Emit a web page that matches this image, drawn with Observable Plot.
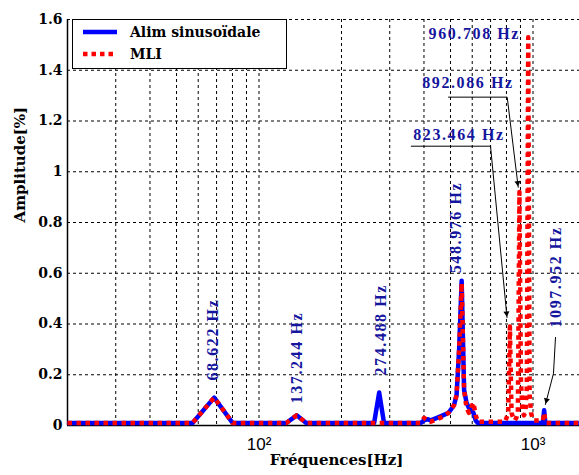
<!DOCTYPE html>
<html><head><meta charset="utf-8">
<script src="https://cdn.jsdelivr.net/npm/d3@7"></script>
<script src="https://cdn.jsdelivr.net/npm/@observablehq/plot@0.6"></script>
<style>
html,body{margin:0;padding:0;background:#fff;overflow:hidden}
#wrap{position:relative;width:579px;height:475px}
#legend{position:absolute;left:72px;top:19px}
</style></head><body><div id="wrap"></div>
<script>
// ---- data ----
const seriesNames = ["Alim sinusoïdale", "MLI"];
const sinFreq = [20,57.2,68.6,80.1,125.8,137.2,148.7,263.1,274.5,285.9,388.9,400.3,411.7,423.2,446.1,468.9,491.8,503.2,514.7,526.1,537.5,549.0,560.4,571.9,583.3,594.7,606.2,617.6,629.0,1086.5,1098.0,1109.4,1470];
const sinAmp  = [0.01,0.01,0.11,0.01,0.01,0.04,0.01,0.01,0.13,0.01,0.01,0.02,0.025,0.02,0.03,0.04,0.05,0.065,0.08,0.12,0.3,0.57,0.14,0.09,0.07,0.06,0.05,0.02,0.01,0.01,0.06,0.01,0.01];
const mliFreq = [20,57.2,68.6,80.1,125.8,137.2,148.7,388.9,400.3,411.7,423.2,446.1,468.9,491.8,503.2,514.7,526.1,537.5,549.0,560.4,571.9,583.3,594.7,606.2,617.6,629.0,789.2,800.6,812.0,823.5,834.9,846.3,857.8,869.2,880.6,892.1,903.5,915.0,926.4,937.8,949.3,960.7,972.1,983.6,995.0,1006.4,1086.5,1098.0,1109.4,1120.8,1470];
const mliAmp  = [0.01,0.01,0.11,0.01,0.01,0.04,0.01,0.01,0.03,0.02,0.015,0.025,0.035,0.05,0.065,0.08,0.12,0.3,0.56,0.14,0.07,0.05,0.07,0.09,0.04,0.015,0.015,0.03,0.05,0.39,0.05,0.03,0.02,0.03,0.05,0.92,0.18,0.06,0.04,0.05,0.15,1.53,0.12,0.05,0.03,0.02,0.02,0.05,0.02,0.01,0.01];

const yTicks = [0,0.2,0.4,0.6,0.8,1,1.2,1.4,1.6];
const yTickLabels = ["0","0.2","0.4","0.6","0.8","1","1.2","1.4","1.6"];
const xTicks = [100,1000];
const xTickLabels = ["10²","10³"];
const gridFreqs = [30,40,50,60,70,80,90,100,200,300,400,500,600,700,800,900,1000];
const xLabel = "Fréquences[Hz]";
const yLabel = "Amplitude[%]";

// vertical peak labels (anchor = bottom of text)
const vLabelText = ["68.622 Hz","137.244 Hz","274.488 Hz","548.976 Hz","1097.952 Hz"];
const vLabelFreq = [67.6,137.8,277.5,521,1208];
const vLabelAmp  = [0.177,0.087,0.197,0.60,0.386];
// horizontal peak labels (anchor = left of text)
const hLabelText = ["960.708 Hz","892.086 Hz","823.464 Hz"];
const hLabelFreq = [415.6,394,365.3];
const hLabelAmp  = [1.545,1.352,1.147];
// leader lines (polylines ending with an arrow tip)
const leaderId   = [892,892,892, 823,823,823, 1098,1098,1098];
const leaderFreq = [491.6,805,883, 359.5,699.7,803.7, 1208,1187.6,1110];
const leaderAmp  = [1.294,1.294,0.939, 1.1007,1.1007,0.4256, 0.347,0.205,0.083];

// ---- build ----
const W = 579, H = 475, mL = 67, mR = 0, mT = 19, mB = 50;
const xDomain = [20, 1478], yDomain = [0, 1.6];
const sin = sinFreq.map((f,i)=>({f, a: sinAmp[i]}));
const mli = mliFreq.map((f,i)=>({f, a: mliAmp[i]}));
const vLab = vLabelText.map((t,i)=>({t, f: vLabelFreq[i], a: vLabelAmp[i]}));
const hLab = hLabelText.map((t,i)=>({t, f: hLabelFreq[i], a: hLabelAmp[i]}));
const leaders = leaderId.map((id,i)=>({id, f: leaderFreq[i], a: leaderAmp[i]}));

const xs = d3.scaleLog(xDomain, [mL, W - mR]);
const ys = d3.scaleLinear(yDomain, [H - mB, mT]);
const annColor = "#15159e";
const serif = "DejaVu Serif";
const annFont = "Liberation Serif";

function arrowHead(id) {
  const pts = leaders.filter(d => d.id === id);
  const p0 = pts[pts.length-2], p1 = pts[pts.length-1];
  const dx = xs(p1.f) - xs(p0.f), dy = ys(p1.a) - ys(p0.a);
  const L = Math.hypot(dx, dy), ux = dx/L, uy = dy/L;
  const k = 4.3;
  return Plot.dot([p1], {x:"f", y:"a", symbol:"triangle2", r:2.9, fill:"black", stroke:"none",
    rotate: Math.atan2(uy, ux)*180/Math.PI + 90, dx: -ux*k, dy: -uy*k});
}

const plot = Plot.plot({
  width: W, height: H, marginLeft: mL, marginRight: mR, marginTop: mT, marginBottom: mB,
  x: {type: "log", domain: xDomain},
  y: {domain: yDomain},
  style: {fontFamily: serif, background: "white"},
  marks: [
    Plot.ruleX(gridFreqs, {stroke: "#000", strokeWidth: 1, strokeDasharray: "3,3"}),
    Plot.ruleY(yTicks.slice(1), {stroke: "#000", strokeWidth: 1, strokeDasharray: "3,3"}),
    Plot.axisY({ticks: yTicks, tickSize: 0, tickPadding: 5, label: null,
      tickFormat: d => yTickLabels[yTicks.indexOf(d)],
      fontSize: 14, fontWeight: "bold", fontFamily: serif, fill: "#000"}),
    Plot.axisX({ticks: xTicks, tickSize: 0, tickPadding: 12, label: null,
      tickFormat: d => xTickLabels[xTicks.indexOf(d)],
      fontSize: 17, fontFamily: "Liberation Sans", fill: "#000"}),
    Plot.ruleX([xDomain[0]], {stroke: "#000", strokeWidth: 1.5}),
    Plot.ruleY([0], {stroke: "#000", strokeWidth: 1.5}),
    Plot.line(sin, {x: "f", y: "a", stroke: "#0000ff", strokeWidth: 4.5, strokeLinejoin: "round", strokeLinecap: "butt"}),
    Plot.line(mli, {x: "f", y: "a", stroke: "#ff0000", strokeWidth: 4.5, strokeDasharray: "4.5,4.5", strokeLinejoin: "round", strokeLinecap: "butt"}),
    Plot.line(leaders, {x: "f", y: "a", z: "id", stroke: "#000", strokeWidth: 1, curve: "linear"}),
    arrowHead(892), arrowHead(823), arrowHead(1098),
    Plot.text(vLab, {x: "f", y: "a", text: "t", rotate: -90, textAnchor: "start", lineAnchor: "middle",
      fill: annColor, fontSize: 16, fontWeight: "bold", fontFamily: annFont}),
    Plot.text(hLab, {x: "f", y: "a", text: "t", textAnchor: "start", lineAnchor: "middle",
      fill: annColor, fontSize: 16, fontWeight: "bold", fontFamily: annFont}),
    Plot.text([xLabel], {frameAnchor: "bottom", dx: 13, dy: 35, lineAnchor: "middle",
      fontSize: 15, fontWeight: "bold", fontFamily: serif, fill: "#000"}),
    Plot.text([yLabel], {frameAnchor: "left", dx: -47, rotate: -90, lineAnchor: "middle",
      fontSize: 15, fontWeight: "bold", fontFamily: serif, fill: "#000"})
  ]
});
d3.select(plot).selectAll(`g[fill="${annColor}"] text`).style("letter-spacing", "1.6px");
const wrap = document.getElementById("wrap");
wrap.appendChild(plot);

// legend box inside plot (top-left)
const lg = d3.select(wrap).append("svg").attr("id", "legend").attr("width", 216).attr("height", 51);
lg.append("rect").attr("x", 0.5).attr("y", 0.5).attr("width", 214).attr("height", 49)
  .attr("fill", "#fff").attr("stroke", "#000").attr("stroke-width", 1);
const legColors = ["#0000ff", "#ff0000"];
const legDash = [null, "4.5,4"];
seriesNames.forEach((name, i) => {
  const yy = 13 + i * 22;
  lg.append("line").attr("x1", 11).attr("x2", 45).attr("y1", yy).attr("y2", yy)
    .attr("stroke", legColors[i]).attr("stroke-width", 4.5).attr("stroke-dasharray", legDash[i]);
  lg.append("text").attr("x", 58).attr("y", yy + 5).text(name)
    .attr("font-family", serif).attr("font-weight", "bold").attr("font-size", 14).attr("fill", "#000");
});
</script></body></html>
